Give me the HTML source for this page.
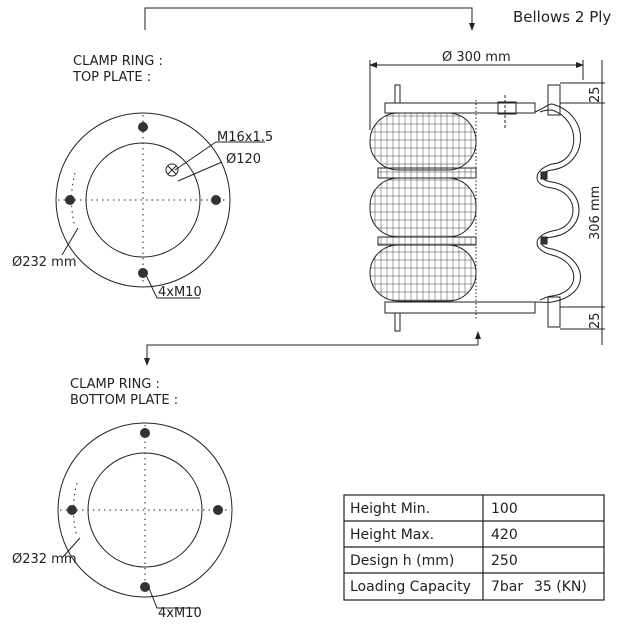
<!DOCTYPE html><html><head><style>body{margin:0;background:#fff}svg{display:block}text{font-family:"DejaVu Sans","Liberation Sans",sans-serif;fill:#222}</style></head><body>
<svg width="640" height="625" viewBox="0 0 640 625" xmlns="http://www.w3.org/2000/svg">
<defs>
<marker id="a" markerWidth="8" markerHeight="8" refX="7" refY="4" orient="auto"><path d="M0,1 L8,4 L0,7z" fill="#222"/></marker>
<pattern id="h" width="6" height="8" patternUnits="userSpaceOnUse"><path d="M3,0V8 M0,4H6" stroke="#444" stroke-width="0.5"/></pattern>
</defs>
<text x="513" y="22" font-size="15">Bellows 2 Ply</text>
<polyline points="145,30 145,8 472,8 472,30" fill="none" stroke="#222" marker-end="url(#a)"/>
<polyline points="478,345 147,345 147,365" fill="none" stroke="#222" marker-end="url(#a)"/>
<line x1="478" y1="345" x2="478" y2="332" stroke="#222" marker-end="url(#a)"/>
<g font-size="13">
<text x="73" y="65">CLAMP RING   :</text><text x="73" y="81">TOP PLATE     :</text>
<text x="217" y="141">M16x1.5</text><text x="226" y="163">Ø120</text>
<text x="12" y="266">Ø232 mm</text><text x="158" y="296">4xM10</text>
<text x="70" y="388">CLAMP RING     :</text><text x="70" y="404">BOTTOM PLATE :</text>
<text x="12" y="563">Ø232 mm</text><text x="158" y="617">4xM10</text>
</g>
<g fill="none" stroke="#222" stroke-width="1">
<circle cx="143" cy="200" r="87"/><circle cx="143" cy="200" r="57"/>
<circle cx="145" cy="510" r="87"/><circle cx="145" cy="510" r="57"/>
<g stroke-dasharray="1.5 4">
<line x1="58" y1="200" x2="228" y2="200"/><line x1="143" y1="115" x2="143" y2="285"/>
<line x1="60" y1="510" x2="230" y2="510"/><line x1="145" y1="425" x2="145" y2="595"/>
<path d="M75,173 Q68,200 75,227"/><path d="M77,483 Q70,510 77,537"/>
</g>
<path d="M216,142 L175,170 M222,162 L178,181 M78,228 L62,255 M80,538 L62,558 M145,273 L157,298 L200,298 M147,583 L157,608 L200,608 M216,142 L265,142"/>
<circle cx="172" cy="170" r="6"/><path d="M168,166 L176,174 M176,166 L168,174"/>
</g>
<g fill="#333"><circle cx="143" cy="127" r="5"/><circle cx="70" cy="200" r="5"/><circle cx="216" cy="200" r="5"/><circle cx="143" cy="273" r="5"/>
<circle cx="145" cy="433" r="5"/><circle cx="72" cy="510" r="5"/><circle cx="218" cy="510" r="5"/><circle cx="145" cy="587" r="5"/></g>
<g fill="none" stroke="#222" stroke-width="1">
<line x1="370" y1="65" x2="583" y2="65" marker-end="url(#a)"/><line x1="583" y1="65" x2="370" y2="65" marker-end="url(#a)"/>
<line x1="370" y1="60" x2="370" y2="130"/><line x1="583" y1="60" x2="583" y2="80"/>
<line x1="602" y1="60" x2="602" y2="345"/>
<path d="M560,83H605 M560,103H605 M560,307H605 M560,329H605"/>
<rect x="385" y="103" width="150" height="10" fill="#fff"/>
<rect x="385" y="302" width="150" height="11" fill="#fff"/>
<rect x="395" y="85" width="5" height="18"/><rect x="395" y="313" width="5" height="18"/>
<rect x="498" y="102" width="18" height="12"/><line x1="505" y1="95" x2="505" y2="130" stroke-dasharray="3 2"/>
<rect x="370" y="113" width="106" height="57" rx="28" fill="url(#h)"/>
<rect x="378" y="168" width="98" height="10" fill="url(#h)"/>
<rect x="370" y="178" width="106" height="59" rx="28" fill="url(#h)"/>
<rect x="378" y="237" width="98" height="8" fill="url(#h)"/>
<rect x="370" y="245" width="106" height="56" rx="28" fill="url(#h)"/>
<line x1="476" y1="100" x2="476" y2="320" stroke-dasharray="1.5 2"/>
<path d="M535,112 C545,108 548,104 552,104 C592,115 588,165 552,170 C538,172 538,180 552,182 C588,188 588,232 552,237 C538,239 538,247 552,249 C588,258 592,295 552,302 C548,303 545,302 535,302"/>
<path d="M540,112 C545,110 548,110 552,110 C582,120 580,162 552,164 C532,170 532,186 552,188 C580,193 580,228 552,231 C532,236 532,250 552,255 C580,262 582,292 552,296 C548,296 545,298 540,300"/>
<rect x="548" y="85" width="12" height="30"/><rect x="548" y="297" width="12" height="30"/>
<rect x="541" y="172" width="6" height="7" fill="#333"/><rect x="541" y="237" width="6" height="7" fill="#333"/>
</g>
<g font-size="13"><text x="442" y="61">Ø 300 mm</text>
<text transform="translate(599,103) rotate(-90)">25</text>
<text transform="translate(599,329) rotate(-90)">25</text>
<text transform="translate(599,240) rotate(-90)">306 mm</text></g>
<g fill="none" stroke="#222" stroke-width="1.2">
<rect x="344" y="495" width="260" height="105"/>
<path d="M344,521H604 M344,547H604 M344,573H604 M483,495V600"/></g>
<g font-size="14"><text x="350" y="513">Height Min.</text><text x="491" y="513">100</text>
<text x="350" y="539">Height Max.</text><text x="491" y="539">420</text>
<text x="350" y="565">Design h (mm)</text><text x="491" y="565">250</text>
<text x="350" y="591">Loading Capacity</text><text x="491" y="591">7bar</text><text x="534" y="591">35 (KN)</text></g>
</svg></body></html>
